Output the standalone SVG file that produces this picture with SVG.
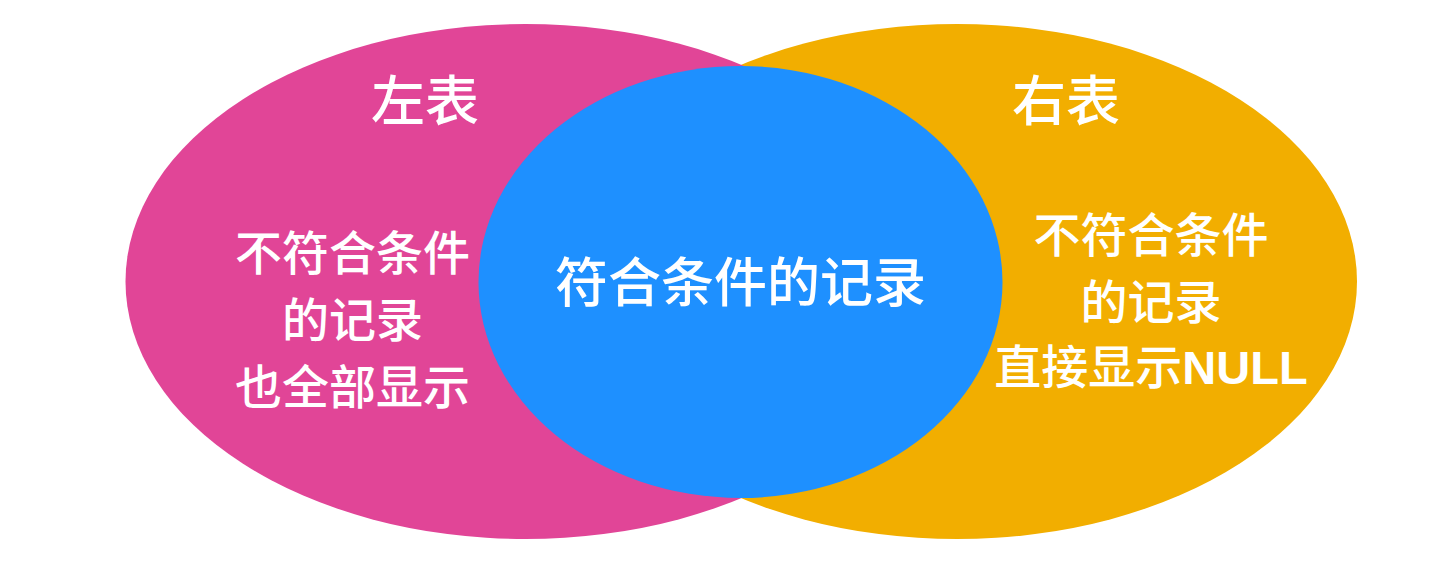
<svg xmlns="http://www.w3.org/2000/svg" width="1448" height="582" viewBox="0 0 1448 582">
<style>
.t{fill:#ffffff;font-family:"Noto Sans CJK SC","Noto Sans",sans-serif;font-weight:500;text-anchor:middle}
.b{font-family:"Liberation Sans",Arial,sans-serif;font-weight:700}
</style>
<rect width="1448" height="582" fill="#ffffff"/>
<g id="right-table">
<ellipse cx="957" cy="281.5" rx="400" ry="257.5" fill="#F2AE00"/>
<text class="t" x="1066" y="121" font-size="54">右表</text>
<text class="t" font-size="47"><tspan x="1151" y="252">不符合条件</tspan><tspan x="1151" y="319">的记录</tspan><tspan x="1151" y="384">直接显示<tspan class="b">NULL</tspan></tspan></text>
</g>
<g id="left-table">
<ellipse cx="525.5" cy="281.5" rx="400" ry="257.5" fill="#E14597"/>
<text class="t" x="425" y="121" font-size="54">左表</text>
<text class="t" font-size="47"><tspan x="352.5" y="270">不符合条件</tspan><tspan x="352.5" y="337">的记录</tspan><tspan x="352.5" y="404">也全部显示</tspan></text>
</g>
<g id="match">
<ellipse cx="740.5" cy="282" rx="262" ry="216" fill="#1E90FF"/>
<text class="t" x="740.5" y="302" font-size="53">符合条件的记录</text>
</g>
</svg>
